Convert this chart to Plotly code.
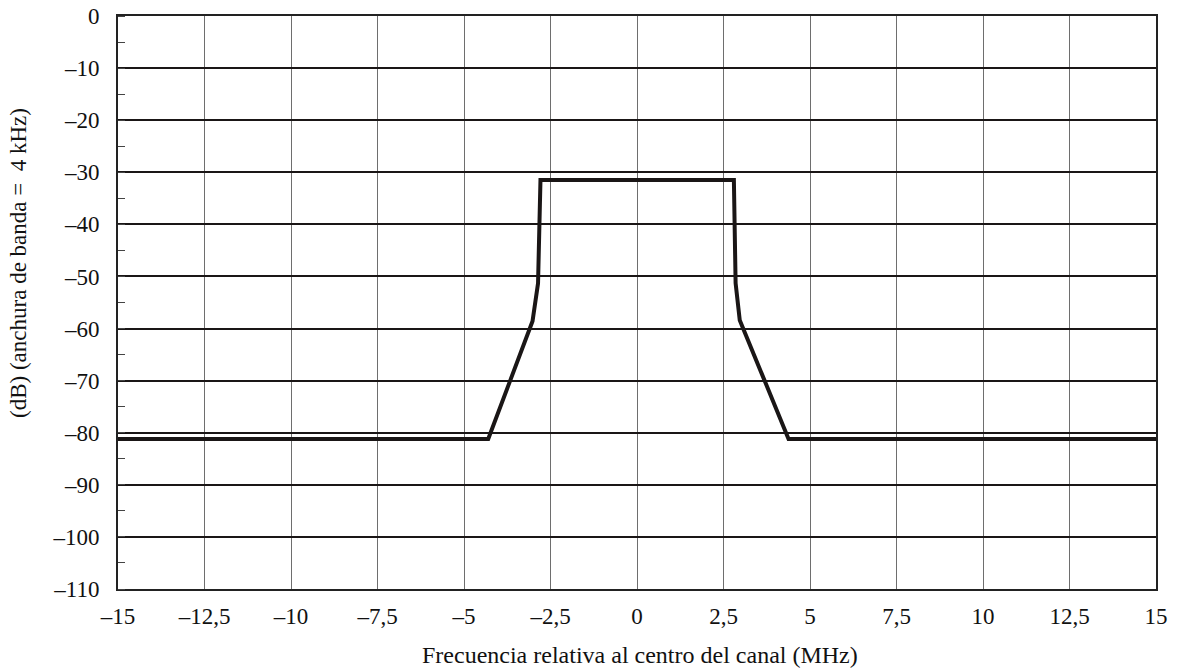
import plotly.graph_objects as go

freq = [-15, -4.3, -3.02, -2.86, -2.79, 2.8, 2.85, 2.97, 4.38, 15]
level = [-81.2, -81.2, -58.6, -51.3, -31.5, -31.5, -51.3, -58.4, -81.2, -81.2]

x_ticks = [-15, -12.5, -10, -7.5, -5, -2.5, 0, 2.5, 5, 7.5, 10, 12.5, 15]
y_ticks = list(range(0, -111, -10))

x_title = "Frecuencia relativa al centro del canal (MHz)"
y_title = "(dB) (anchura de banda =\u00a0 4 kHz)"

def fmt(v):
    s = ("%g" % abs(v)).replace(".", ",")
    return ("\u2013" + s) if v < 0 else s

fig = go.Figure()
fig.add_trace(go.Scatter(x=freq, y=level, mode="lines",
                         line=dict(color="#1a1616", width=4), showlegend=False))

font = dict(family="Liberation Serif", color="#111", size=23)

fig.update_layout(
    width=1177, height=670,
    margin=dict(l=118, r=21, t=16, b=81),
    paper_bgcolor="white", plot_bgcolor="white",
    font=font,
    xaxis=dict(range=[-15, 15], tickvals=x_ticks, ticktext=[fmt(v) for v in x_ticks],
               showgrid=True, gridcolor="#6e6e6e", gridwidth=1, automargin=False,
               zeroline=False, showline=True, linecolor="#222", linewidth=2, mirror=True,
               ticks="", ticklabelstandoff=5, ticklabeloverflow="allow"),
    yaxis=dict(range=[-110, 0], tickvals=y_ticks, ticktext=[fmt(v) for v in y_ticks],
               showgrid=True, gridcolor="#1a1616", gridwidth=2.2, automargin=False,
               zeroline=False, showline=True, linecolor="#222", linewidth=2, mirror=True,
               ticks="", ticklabelstandoff=12, ticklabeloverflow="allow",
               minor=dict(ticks="inside", dtick=5, tick0=0, ticklen=7, tickwidth=1,
                          tickcolor="#444", showgrid=False)),
    annotations=[
        dict(text=x_title, xref="paper", yref="paper", x=0.503, y=0, yshift=-66,
             xanchor="center", yanchor="middle", showarrow=False, font=dict(size=24)),
        dict(text=y_title, xref="paper", yref="paper", x=0, xshift=-99, y=0.569,
             xanchor="center", yanchor="middle", textangle=-90, showarrow=False,
             font=dict(size=23)),
    ],
)

fig.write_html("out.html", config={"displayModeBar": False},
               post_script="document.body.style.margin='0';")
